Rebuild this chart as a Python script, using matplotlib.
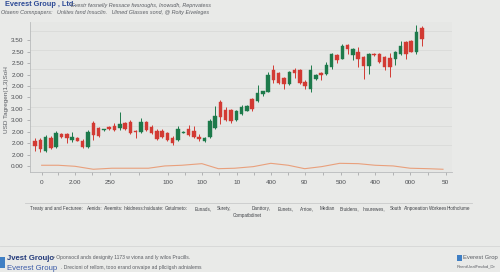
"""Candlestick-style overview chart (Everest Group layout), redrawn with matplotlib."""
import numpy as np
import matplotlib.pyplot as plt
from matplotlib.patches import Rectangle

plt.rcParams["font.family"] = ["Liberation Sans", "DejaVu Sans"]

# ---- data (y in tick-step units) ----
opens = [2.19, 2.28, 1.34, 2.48, 1.64, 2.81, 2.78, 2.28, 2.43, 2.22, 1.64, 3.75, 3.31, 3.13,
         3.39, 3.51, 3.31, 3.75, 3.89, 3.07, 3.01, 3.83, 3.45, 3.07, 3.10, 2.87, 2.48, 2.28,
         2.92, 3.22, 3.10, 2.52,
         2.22, 2.52, 3.31, 5.64, 4.91, 4.91, 4.04, 4.56, 4.85, 5.85, 5.70, 6.29, 6.49, 8.42,
         8.13, 7.66, 7.17, 8.42, 8.42, 7.39, 6.73, 7.63, 8.13, 8.04, 8.62, 9.68, 9.39, 10.55,
         9.74, 9.97, 9.50, 8.71, 9.82, 9.80, 9.50, 9.47, 9.36, 9.77, 10.82, 10.90, 9.94, 12.08]
closes = [1.78, 1.46, 2.57, 1.61, 2.92, 2.57, 2.43, 2.57, 2.22, 1.69, 3.01, 2.72, 2.63, 3.18,
          3.25, 3.16, 3.68, 3.25, 2.87, 2.98, 3.83, 3.16, 2.87, 2.37, 2.57, 2.28, 1.99, 3.25,
          2.98, 2.72, 2.57, 2.34,
          2.48, 3.97, 4.41, 4.27, 4.04, 3.97, 4.85, 5.20, 5.26, 4.97, 6.38, 6.52, 7.96, 7.48,
          7.25, 7.17, 8.18, 8.13, 7.25, 6.96, 8.42, 7.98, 7.92, 8.86, 9.82, 9.24, 10.53, 10.26,
          10.24, 9.39, 8.77, 9.82, 9.68, 9.06, 8.66, 8.62, 10.00, 10.46, 9.82, 10.00, 11.72, 11.14]
highs = [2.46, 2.46, 2.72, 2.63, 3.03, 2.89, 2.85, 3.01, 2.50, 2.32, 3.11, 3.97, 3.42, 3.25,
         3.46, 3.75, 4.68, 3.86, 3.99, 3.16, 4.18, 3.95, 3.55, 3.20, 3.25, 2.98, 2.59, 3.51,
         3.03, 3.55, 3.51, 2.81,
         2.57, 4.10, 5.26, 5.73, 5.20, 5.00, 4.91, 5.32, 5.35, 5.94, 7.08, 6.58, 8.18, 8.86,
         8.22, 7.75, 8.27, 8.57, 8.51, 7.48, 8.86, 8.07, 8.22, 9.06, 9.91, 9.82, 10.67, 10.70,
         10.32, 10.38, 9.59, 9.91, 9.88, 9.88, 9.59, 9.88, 10.09, 10.90, 10.90, 10.99, 12.31, 12.22]
lows = [1.34, 1.25, 1.20, 1.49, 1.54, 2.46, 1.99, 2.13, 2.15, 1.55, 1.58, 2.28, 2.50, 3.07,
        3.16, 3.07, 3.16, 3.11, 2.76, 2.43, 2.89, 3.03, 2.76, 2.24, 2.46, 2.15, 1.84, 2.19,
        2.86, 2.59, 2.41, 2.22,
        2.08, 2.43, 3.22, 3.68, 3.95, 3.75, 3.97, 4.50, 4.80, 4.82, 5.64, 6.14, 6.43, 7.25,
        7.19, 6.73, 7.11, 7.69, 7.19, 6.73, 6.46, 7.54, 7.48, 7.96, 8.48, 9.01, 9.33, 9.82,
        9.30, 8.66, 7.61, 8.07, 9.59, 8.97, 8.42, 7.75, 8.83, 9.71, 9.36, 9.94, 9.78, 10.46]

vol_x = [1.26, 4.4, 7.55, 11.0, 14.5, 21.4, 24.5, 27.7, 31.5, 34.6, 37.7, 41.2, 44.5, 47.8,
         50.9, 54.1, 57.5, 61.0, 64.2, 67.6, 70.8, 74.2, 77.0]
vol_y = [0.06, 0.06, -0.03, -0.29, -0.20, -0.20, 0.0, 0.06, 0.20, -0.24, -0.20, -0.06, 0.23,
         0.06, -0.24, -0.06, 0.23, 0.20, 0.06, 0.0, -0.20, -0.24, -0.29]

ytick_labels = ["0.00", "2.00", "2.00", "2.00", "3.00", "3.00", "3.00", "2.00", "2.00",
                "2.50", "2.50", "3.50"]
xtick_pos = [1.26, 7.55, 14.15, 25.1, 31.5, 38.1, 44.5, 50.9, 57.7, 64.2, 70.8, 77.5]
xtick_labels = ["0", "2.00", "250", "100", "100", "10", "400", "90", "500", "400", "000", "50"]

categories = ["Treaty and and Fecturee:", "Aenids:", "Aleemits:", "Inkidness:", "Insiduate:",
              "Gotulmeto:", "Eunads,", "Surety,", "Danttory,", "Eunets,", "Arrioe,", "Median",
              "Bruidens,", "Insurewes,", "South", "Alnpoeation", "Workees", "Hiotholume"]
cat_x = [30.5, 87, 103.5, 124, 144, 165, 195, 217, 252, 278, 300, 320, 340, 363, 390, 404, 429, 447]

BG = "#e9eae8"
RED, GREEN = "#d23a33", "#1d7a4b"
BLUE = "#2c4a96"
GREY = "#5a5d63"

fig = plt.figure(figsize=(5.0, 2.72), dpi=100, facecolor=BG)
ax = fig.add_axes([30 / 500, 1 - 172 / 272, 422 / 500, 150 / 272])
ax.set_facecolor("#e6e7e5")

# candles
w = 0.66
for i, (o, c, h, l) in enumerate(zip(opens, closes, highs, lows)):
    col = GREEN if c >= o else RED
    ax.vlines(i, l, h, color=col, lw=0.7, zorder=2)
    lo, hi = min(o, c), max(o, c)
    ax.add_patch(Rectangle((i - w / 2, lo), w, max(hi - lo, 0.08), facecolor=col,
                           edgecolor=col, lw=0.3, zorder=3))

ax.plot(vol_x, vol_y, color="#e9a07c", lw=0.8, zorder=2)

ax.set_xlim(-0.94, 78.7)
ax.set_ylim(-0.53, 12.6)
ax.set_yticks(range(len(ytick_labels)))
ax.set_yticklabels(ytick_labels)
ax.set_yticks([1.84, 3.5, 5.17, 6.84, 8.5, 10.17, 11.84], minor=True)
ax.grid(which="minor", axis="y", color="#d9dad8", lw=0.6)
ax.set_xticks(xtick_pos)
ax.set_xticklabels(xtick_labels)
ax.set_xticks([(a + b) / 2 for a, b in zip(xtick_pos[:-1], xtick_pos[1:])], minor=True)
ax.tick_params(axis="both", which="major", labelsize=4.6, colors="#9a9c9e", labelcolor="#4a4c50",
               length=2, width=0.5, pad=2.5)
ax.tick_params(axis="y", which="minor", length=0)
ax.tick_params(axis="x", which="minor", length=2, width=0.5, colors="#9a9c9e")
ax.tick_params(axis="x", pad=4)
for s in ["top", "right"]:
    ax.spines[s].set_visible(False)
for s in ["left", "bottom"]:
    ax.spines[s].set_color("#b9bbbc")
    ax.spines[s].set_linewidth(0.6)
fig.text(6.5 / 500, 1 - 100 / 272, "USD Tagregen(1,3)SoH", fontsize=4.6, color=GREY,
         rotation=90, ha="center", va="center")

# header
fig.text(5 / 500, 1 - 5 / 272, "Everest Group , Ltd.", fontsize=5.3, fontweight="bold",
         color=BLUE, va="center")
fig.text(71 / 500, 1 - 5 / 272, "Evestr fwsnelly Ressace fwsroughs, Inowudh, Repnvatess",
         fontsize=3.9, color=GREY, va="center", style="italic")
fig.text(1 / 500, 1 - 12.5 / 272,
         "Otaenn Comnpapers:   Unlites fand Insuclin.   Ulmed Glasses sond, @ Roity Eiveleges",
         fontsize=3.9, color=GREY, va="center", style="italic")

# category strip
fig.add_artist(plt.Line2D([25 / 500, 472 / 500], [1 - 202.7 / 272] * 2, color="#c9cacb", lw=0.6))
for lab, x in zip(categories, cat_x):
    fig.text(x / 500, 1 - 208.5 / 272, lab, fontsize=3.3, color="#3f4247", va="center")
fig.text(233 / 500, 1 - 215.5 / 272, "Compatbdinet", fontsize=3.3, color="#3f4247", va="center")

# footer
fig.add_artist(plt.Line2D([0, 1], [1 - 246 / 272] * 2, color="#d5d6d6", lw=0.6))
fig.add_artist(Rectangle((0, 1 - 268 / 272), 5 / 500, 11 / 272, transform=fig.transFigure,
                         facecolor="#3f7fc4", edgecolor="none"))
fig.text(7 / 500, 1 - 258 / 272, "Jvest Groujo", fontsize=5.6, fontweight="bold", color="#22397a",
         va="center")
fig.text(53 / 500, 1 - 258 / 272, "• Oponsocil ands designity 1173 w viona and ly wilos Prucills.",
         fontsize=3.6, color=GREY, va="center")
fig.text(7 / 500, 1 - 268 / 272, "Everest Group", fontsize=5.6, color="#3a5aa8", va="center")
fig.text(61 / 500, 1 - 268 / 272, ". Drecioni of rellom, tooo erand onvaipe ad pllciigsh adnialems",
         fontsize=3.6, color=GREY, va="center")
fig.add_artist(Rectangle((457 / 500, 1 - 261 / 272), 5 / 500, 6 / 272, transform=fig.transFigure,
                         facecolor="#3f7fc4", edgecolor="none"))
fig.text(463 / 500, 1 - 258 / 272, "Everest Grop", fontsize=4.2, color=GREY, va="center")
fig.text(457 / 500, 1 - 266 / 272, "ReentUealFmdod_Dr", fontsize=3.0, color=GREY, va="center")

fig.savefig("out.png", dpi=100, facecolor=BG)
